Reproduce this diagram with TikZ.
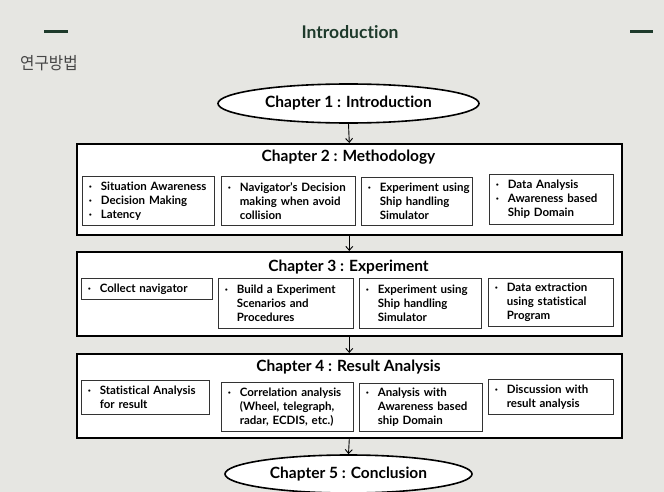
\documentclass[tikz,border=0pt]{standalone}
\usepackage{fontspec}
\setmainfont{Lato}[Ligatures={NoCommon}]
\newfontfamily\krfont[FakeStretch=0.92]{Noto Sans CJK KR}
\usetikzlibrary{shapes.geometric,arrows.meta}
\definecolor{bgc}{RGB}{230,230,226}
\definecolor{hdgreen}{RGB}{30,58,43}
\definecolor{krgray}{RGB}{70,70,70}
\hyphenpenalty=10000\relax
\newcommand\bu{\makebox[12pt][l]{·}}
\newcommand\ind{\hspace*{12pt}}
\tikzset{
  obox/.style={draw=black, line width=1.6pt, fill=white, anchor=north west, inner sep=0pt},
  otitle/.style={font=\fontsize{15.5}{18}\selectfont\bfseries, inner sep=0pt},
  chell/.style={ellipse, draw=black, line width=1.6pt, fill=white, inner sep=0pt, font=\fontsize{15.5}{18}\selectfont\bfseries},
  ibox/.style={draw=black!80, line width=0.7pt, fill=white, inner xsep=6.5pt, inner ysep=0pt, anchor=north west, align=left, font=\fontsize{11.5}{14}\selectfont\bfseries},
  arr/.style={line width=0.9pt, -{Straight Barb[length=4pt,width=7pt]}},
  hdash/.style={line width=3pt, draw=hdgreen}
}
\begin{document}
\begin{tikzpicture}[x=1pt,y=-1pt]
\fill[bgc] (0,0) rectangle (664,492);
\useasboundingbox (0,0) rectangle (664,492);
% header
\coordinate (dl1) at (44,32); \coordinate (dl2) at (68,32);
\coordinate (dr1) at (630,32); \coordinate (dr2) at (653,32);
\draw[hdash] (dl1) -- (dl2);
\draw[hdash] (dr1) -- (dr2);
\node[font=\fontsize{17.5}{20}\selectfont\bfseries, text=hdgreen, inner sep=0pt] (hdr) at (350,32) {Introduction};
\node[font=\krfont\fontsize{17}{20}\selectfont, text=krgray, inner sep=0pt, anchor=west] (kr) at (20,63) {연구방법};
% chapter 1
\node[chell, minimum width=261pt, minimum height=39pt] (c1) at (348.5,103.5) {Chapter 1 : Introduction};
% chapter 2
\node[obox, minimum width=545pt, minimum height=91pt] (c2) at (76,143) {};
\node[otitle] (c2t) at (348.5,157) {Chapter 2 : Methodology};
\node[ibox, text width=119pt, minimum height=49pt] (c2a) at (82,176) {\bu Situation Awareness\\\bu Decision Making\\\bu Latency};
\node[ibox, text width=121pt, minimum height=49pt] (c2b) at (221,176) {\bu Navigator’s Decision\\\ind making when avoid\\\ind collision};
\node[ibox, text width=98pt, minimum height=48pt] (c2c) at (361,177) {\mbox{\bu Experiment using}\\\ind Ship handling\\\ind Simulator};
\node[ibox, text width=111pt, minimum height=50pt] (c2d) at (489,174) {\bu Data Analysis\\\bu Awareness based\\\ind Ship Domain};
% chapter 3
\node[obox, minimum width=545pt, minimum height=84pt] (c3) at (76,251) {};
\node[otitle] (c3t) at (348.5,267) {Chapter 3 : Experiment};
\node[ibox, text width=118pt, minimum height=21pt] (c3a) at (81,278) {\bu Collect navigator};
\node[ibox, text width=122pt, minimum height=50pt] (c3b) at (218,278) {\bu Build a Experiment\\\ind Scenarios and\\\ind Procedures};
\node[ibox, text width=109pt, minimum height=50pt] (c3c) at (359,278) {\bu Experiment using\\\ind Ship handling\\\ind Simulator};
\node[ibox, text width=112pt, minimum height=48pt] (c3d) at (488,278) {\bu Data extraction\\\ind using statistical\\\ind Program};
% chapter 4
\node[obox, minimum width=545pt, minimum height=84pt] (c4) at (76,353) {};
\node[otitle] (c4t) at (348.5,367) {Chapter 4 : Result Analysis};
\node[ibox, text width=115pt, minimum height=34pt] (c4a) at (81,380) {\bu Statistical Analysis\\\ind for result};
\node[ibox, text width=119pt, minimum height=49pt] (c4b) at (221,382) {\bu Correlation analysis\\\ind (Wheel, telegraph,\\\ind radar, ECDIS, etc.)};
\node[ibox, text width=110pt, minimum height=48pt] (c4c) at (359,383) {\bu Analysis with\\\ind Awareness based\\\ind ship Domain};
\node[ibox, text width=112pt, minimum height=35pt] (c4d) at (488,379) {\bu Discussion with\\\ind result analysis};
% chapter 5
\node[chell, minimum width=247pt, minimum height=38pt] (c5) at (348.5,474) {Chapter 5 : Conclusion};
% arrows
\draw[arr] (c1.south) -- (c2.north);
\draw[arr] (c2.south) -- (c3.north);
\draw[arr] (c3.south) -- (c4.north);
\draw[arr] (c4.south) -- (c5.north);
\end{tikzpicture}
\end{document}
